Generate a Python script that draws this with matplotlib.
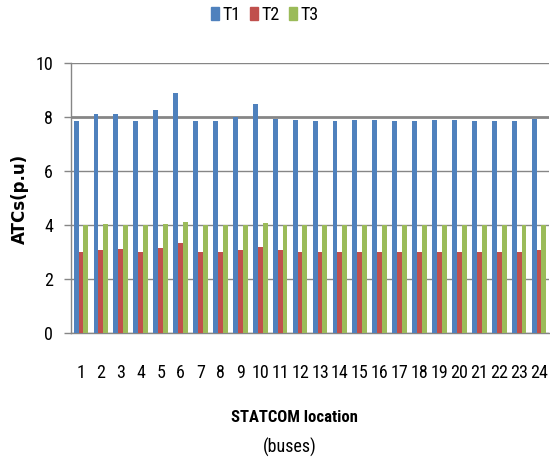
import matplotlib
matplotlib.use("Agg")
import matplotlib.pyplot as plt
import numpy as np
from matplotlib.patches import Patch
import logging
logging.getLogger("matplotlib.font_manager").setLevel(logging.ERROR)

buses = [str(i) for i in range(1, 25)]
t1 = [7.86, 8.12, 8.12, 7.86, 8.27, 8.90, 7.86, 7.86, 8.00, 8.48, 7.94, 7.90,
      7.86, 7.86, 7.90, 7.90, 7.86, 7.86, 7.90, 7.90, 7.86, 7.86, 7.86, 7.94]
t2 = [3.00, 3.09, 3.12, 3.00, 3.16, 3.34, 3.00, 3.00, 3.09, 3.20, 3.09, 3.00,
      3.00, 3.00, 3.00, 3.00, 3.00, 3.00, 3.00, 3.00, 3.00, 3.00, 3.00, 3.09]
t3 = [4.00, 4.05, 4.00, 4.00, 4.05, 4.12, 4.00, 4.00, 4.00, 4.09, 4.00, 4.00,
      4.00, 4.00, 4.00, 4.00, 4.00, 4.00, 4.00, 4.00, 4.00, 4.00, 4.00, 4.00]
series_names = ["T1", "T2", "T3"]
colors = ["#4F81BD", "#C0504D", "#9BBB59"]
yticks = [0, 2, 4, 6, 8, 10]

narrow = ["Liberation Sans Narrow", "Roboto Condensed", "Open Sans Condensed",
          "Liberation Sans", "DejaVu Sans"]

fig = plt.figure(figsize=(5.5, 4.59), dpi=100)
ax = fig.add_axes([71/550, 1 - 333/459, 478/550, 270/459])

x = np.arange(len(buses))
w = 0.245
for i, (vals, c) in enumerate(zip([t1, t2, t3], colors)):
    ax.bar(x + (i - 1) * w, vals, width=w, color=c, zorder=3)

ax.set_xlim(-0.5, len(buses) - 0.5)
ax.set_ylim(0, 10)
ax.set_yticks(yticks)
ax.set_yticklabels([str(v) for v in yticks], family=narrow, fontsize=13)
ax.set_xticks(x)
ax.set_xticklabels(buses, family=narrow, fontsize=13)
ax.tick_params(axis="x", length=0, pad=22)
ax.tick_params(axis="y", length=5, width=1, color="#868686", pad=8)

ax.yaxis.grid(True, color="#868686", lw=1, zorder=0)
for val, gl in zip(ax.get_yticks(), ax.get_ygridlines()):
    if val == 8:
        gl.set_linewidth(2)
for s in ["top", "right"]:
    ax.spines[s].set_visible(False)
for s in ["left", "bottom"]:
    ax.spines[s].set_color("#868686")
    ax.spines[s].set_linewidth(1)

fig.text(20/550, 1 - 199/459, "ATCs(p.u)", rotation=90, ha="center", va="center",
         fontsize=12, fontweight="bold", family="DejaVu Sans")
fig.text(294/550, 1 - 418/459, "STATCOM location", ha="center", va="center",
         fontsize=12, fontweight="bold", family=narrow)
fig.text(290/550, 1 - 447/459, "(buses)", ha="center", va="center",
         fontsize=13, family=narrow)

handles = [Patch(color=c) for c in colors]
fig.legend(handles, series_names, loc="center", bbox_to_anchor=(265/550, 1 - 15/459),
           ncol=3, frameon=False, prop={"family": narrow, "size": 13},
           handlelength=0.45, handleheight=0.7, handletextpad=0.2, columnspacing=0.5)

fig.savefig("out.png", dpi=100)
